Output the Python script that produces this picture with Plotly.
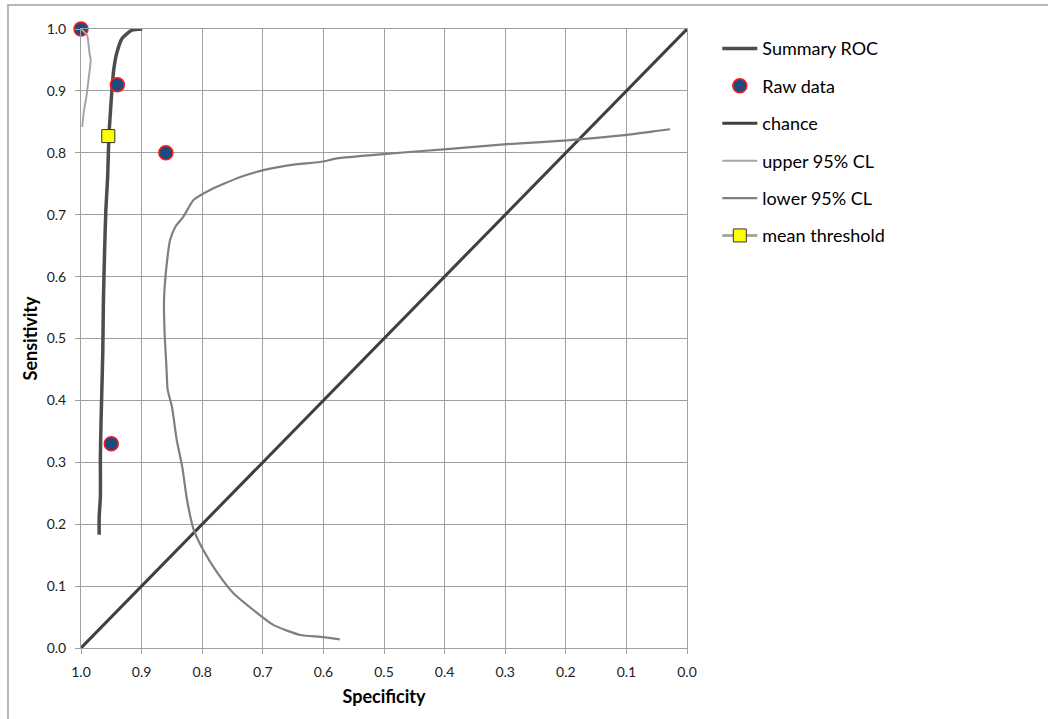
import plotly.graph_objects as go

# Summary ROC curve (specificity, sensitivity)
roc_spec = [0.899, 0.916, 0.932, 0.941, 0.946, 0.949, 0.952, 0.954, 0.956, 0.959,
            0.961, 0.963, 0.964, 0.966, 0.967, 0.968, 0.968, 0.970, 0.970]
roc_sens = [1.000, 0.998, 0.985, 0.961, 0.934, 0.901, 0.858, 0.827, 0.761, 0.708,
            0.643, 0.562, 0.481, 0.401, 0.363, 0.309, 0.244, 0.212, 0.183]

# Individual study results
raw_spec = [1.00, 0.94, 0.86, 0.95]
raw_sens = [1.00, 0.91, 0.80, 0.33]

# Reference line of no discrimination
chance_spec = [1.0, 0.0]
chance_sens = [0.0, 1.0]

# Upper 95% confidence limit
upper_spec = [1.000, 0.990, 0.986, 0.984, 0.987, 0.991, 0.995, 0.998]
upper_sens = [1.000, 0.990, 0.961, 0.950, 0.923, 0.891, 0.869, 0.842]

# Lower 95% confidence limit
lower_spec = [0.573, 0.605, 0.638, 0.682, 0.715, 0.748, 0.776, 0.798, 0.814, 0.825,
              0.833, 0.842, 0.850, 0.857, 0.859, 0.862, 0.863, 0.859, 0.853, 0.844,
              0.831, 0.814, 0.787, 0.737, 0.699, 0.655, 0.600, 0.578, 0.501, 0.396,
              0.297, 0.198, 0.099, 0.044, 0.028]
lower_sens = [0.014, 0.018, 0.021, 0.037, 0.061, 0.088, 0.123, 0.158, 0.191, 0.239,
              0.293, 0.336, 0.390, 0.417, 0.454, 0.508, 0.562, 0.616, 0.659, 0.681,
              0.697, 0.724, 0.740, 0.761, 0.772, 0.780, 0.786, 0.791, 0.798, 0.806,
              0.814, 0.820, 0.829, 0.836, 0.838]

# Mean threshold operating point
mean_spec = [0.955]
mean_sens = [0.827]

tick_vals = [round(i * 0.1, 1) for i in range(11)]
tick_text = [f"{v:.1f}" for v in tick_vals]

FONT = "Lato, 'Open Sans', sans-serif"

fig = go.Figure()

fig.add_trace(go.Scatter(x=roc_spec, y=roc_sens, mode="lines", name="Summary ROC",
                         line=dict(color="#4d4d4d", width=3.5, shape="spline",
                                   smoothing=0.6), legendgroup="a"))
fig.add_trace(go.Scatter(x=raw_spec, y=raw_sens, mode="markers", name="Raw data",
                         marker=dict(color="#1f4a7e", size=14,
                                     line=dict(color="#ff1a1a", width=1.5)),
                         cliponaxis=False, legendgroup="b"))
fig.add_trace(go.Scatter(x=chance_spec, y=chance_sens, mode="lines", name="chance",
                         line=dict(color="#3f3f3f", width=3), legendgroup="c"))
fig.add_trace(go.Scatter(x=upper_spec, y=upper_sens, mode="lines", name="upper 95% CL",
                         line=dict(color="#a6a6a6", width=2, shape="spline",
                                   smoothing=0.6), legendgroup="d"))
fig.add_trace(go.Scatter(x=lower_spec, y=lower_sens, mode="lines", name="lower 95% CL",
                         line=dict(color="#7f7f7f", width=2.2, shape="spline",
                                   smoothing=0.6), legendgroup="e"))
fig.add_trace(go.Scatter(x=mean_spec, y=mean_sens, mode="lines+markers",
                         name="mean threshold",
                         line=dict(color="#a6a6a6", width=3),
                         marker=dict(symbol="square", color="#ffff00", size=13,
                                     line=dict(color="#333333", width=1)),
                         legendgroup="f"))

axis_common = dict(
    tickvals=tick_vals, ticktext=tick_text,
    showgrid=True, gridcolor="#a0a0a0", gridwidth=1,
    showline=True, linecolor="#a0a0a0", linewidth=1, mirror=True,
    ticks="outside", ticklen=5, tickcolor="#a0a0a0",
    zeroline=False,
    tickfont=dict(family=FONT, size=14, color="#222222"),
)

fig.update_xaxes(range=[1.0, 0.0], ticklabelstandoff=6,
                 title=dict(text="<b>Specificity</b>", standoff=11,
                            font=dict(family=FONT, size=18, color="#000000")),
                 **axis_common)
fig.update_yaxes(range=[0.0, 1.0], ticklabelstandoff=6,
                 title=dict(text="<b>Sensitivity</b>", standoff=4,
                            font=dict(family=FONT, size=18, color="#000000")),
                 **axis_common)

# Outer chart frame
fig.add_shape(type="rect", xref="paper", yref="paper",
              x0=-0.1205, x1=1.62, y0=-0.13, y1=1.0388,
              line=dict(color="#a0a0a0", width=1.5), layer="below")

fig.update_layout(
    width=1048, height=719,
    margin=dict(l=81, r=361, t=29, b=71),
    plot_bgcolor="white", paper_bgcolor="white",
    font=dict(family=FONT, size=15, color="#000000"),
    legend=dict(x=1.05, y=0.998, xanchor="left", yanchor="top",
                font=dict(family=FONT, size=18, color="#000000"),
                tracegroupgap=11, itemwidth=35, bgcolor="rgba(0,0,0,0)"),
)

fig.write_html("out.html")
